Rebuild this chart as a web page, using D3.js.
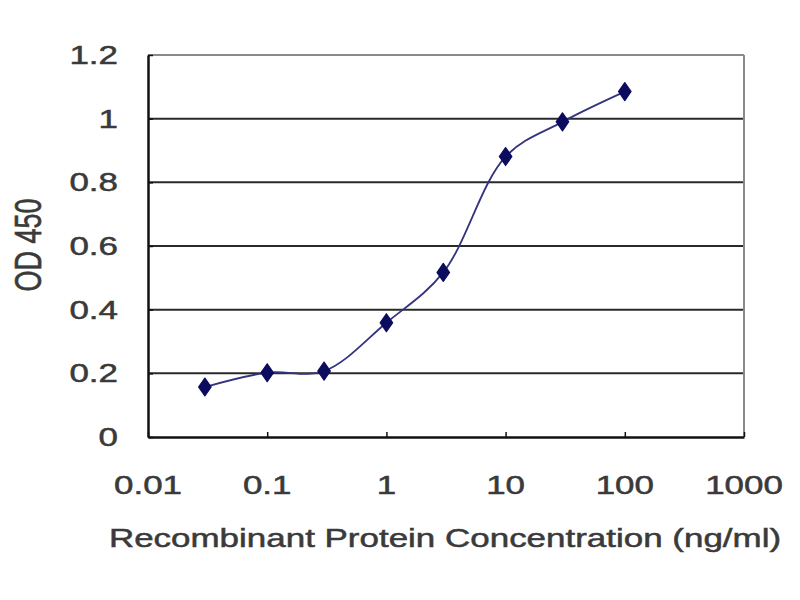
<!DOCTYPE html>
<html><head><meta charset="utf-8">
<script src="https://cdn.jsdelivr.net/npm/d3@7"></script>
<style>body{margin:0;background:#fff}svg{display:block}text{font-family:"Liberation Sans",Arial,sans-serif;fill:#3a3a3a;stroke:#3a3a3a;stroke-width:0.5px}</style>
</head><body>
<svg id="c" width="800" height="600"></svg>
<script>
const concentrations = [0.03, 0.1, 0.3, 1, 3, 10, 30, 100];
const odValues = [0.157, 0.202, 0.207, 0.359, 0.517, 0.881, 0.99, 1.085];
const xTicks = [0.01, 0.1, 1, 10, 100, 1000];
const yTicks = [0, 0.2, 0.4, 0.6, 0.8, 1, 1.2];
const xTitle = "Recombinant Protein Concentration (ng/ml)";
const yTitle = "OD 450";

const svg = d3.select("#c");
const L = 148, R = 744, T = 55, B = 437;
const sx = 1.345, fs = 26;
const x = d3.scaleLog().domain([0.01, 1000]).range([L, R]);
const y = d3.scaleLinear().domain([0, 1.2]).range([B, T]);

// gridlines
svg.append("g").selectAll("line").data(yTicks.filter(d => d > 0 && d < 1.2)).join("line")
  .attr("x1", L).attr("x2", R).attr("y1", d => y(d)).attr("y2", d => y(d))
  .attr("stroke", "#2a2a2a").attr("stroke-width", 2);
// top and right border
svg.append("line").attr("x1", L).attr("x2", R).attr("y1", y(1.2)).attr("y2", y(1.2)).attr("stroke", "#8a8a8a").attr("stroke-width", 2);
svg.append("line").attr("x1", R).attr("x2", R).attr("y1", y(1.2)).attr("y2", y(0)).attr("stroke", "#8a8a8a").attr("stroke-width", 2);

// axes
const xAxis = svg.append("g").attr("transform", `translate(0,${B})`)
  .call(d3.axisBottom(x).tickValues(xTicks).tickSizeInner(-5).tickSizeOuter(0).tickFormat(""));
xAxis.select(".domain").attr("stroke", "#111").attr("stroke-width", 2.5);
xAxis.selectAll(".tick line").attr("stroke", "#111").attr("stroke-width", 1.5);
const yAxis = svg.append("g").attr("transform", `translate(${L},0)`)
  .call(d3.axisLeft(y).tickValues(yTicks).tickSizeInner(-5).tickSizeOuter(0).tickFormat(""));
yAxis.select(".domain").attr("stroke", "#111").attr("stroke-width", 2.5);
yAxis.selectAll(".tick line").attr("stroke", "#111").attr("stroke-width", 1.5);

// tick labels (horizontally stretched like the reference)
svg.append("g").selectAll("text").data(xTicks).join("text")
  .attr("transform", d => `translate(${x(d)},494) scale(${sx},1)`)
  .attr("text-anchor", "middle").attr("font-size", fs)
  .text(d => d3.format("~g")(d));
svg.append("g").selectAll("text").data(yTicks).join("text")
  .attr("transform", d => `translate(118,${y(d) + 9}) scale(${sx},1)`)
  .attr("text-anchor", "end").attr("font-size", fs)
  .text(d => d3.format("~g")(d));

// titles
svg.append("text").attr("transform", `translate(445,547) scale(${sx},1)`)
  .attr("text-anchor", "middle").attr("font-size", fs).text(xTitle);
svg.append("text").attr("transform", `translate(41,245) scale(${sx},1) rotate(-90)`)
  .attr("text-anchor", "middle").attr("font-size", 27).text(yTitle);

// data line
const pts = concentrations.map((c, i) => [c, odValues[i]]);
const line = d3.line().x(d => x(d[0])).y(d => y(d[1])).curve(d3.curveCatmullRom.alpha(0.5));
svg.append("path").datum(pts).attr("d", line).attr("fill", "none")
  .attr("stroke", "#33337f").attr("stroke-width", 1.8);

// markers
const sym = d3.symbol().type(d3.symbolDiamond).size(95);
svg.append("g").selectAll("path").data(pts).join("path")
  .attr("transform", d => `translate(${x(d[0])},${y(d[1])}) scale(1.2,1)`)
  .attr("d", sym).attr("fill", "#0c0c5e").attr("stroke", "#0c0c5e").attr("stroke-width", 1).attr("stroke-linejoin", "round");
</script>
</body></html>
